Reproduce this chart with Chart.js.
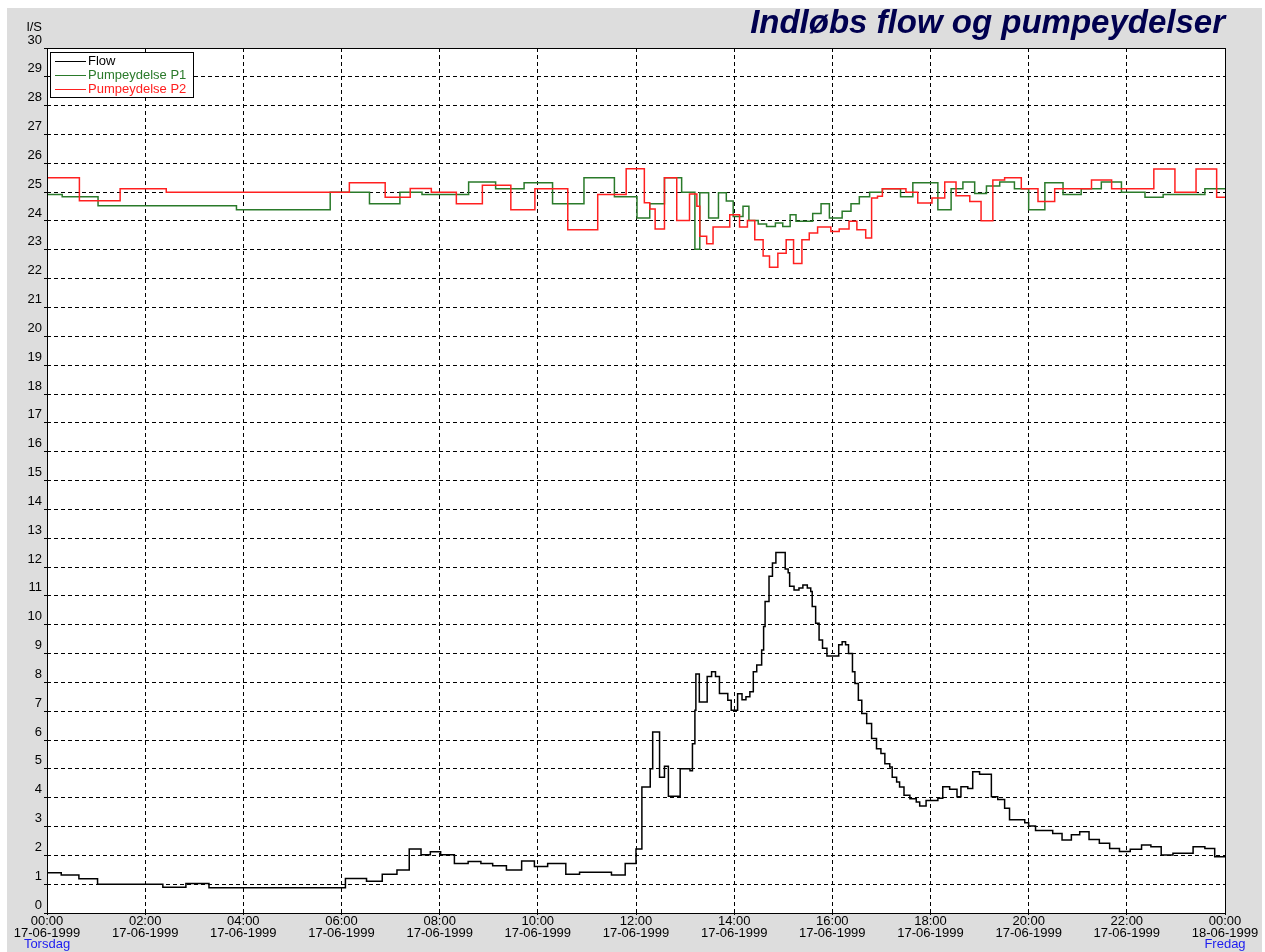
<!DOCTYPE html>
<html>
<head>
<meta charset="utf-8">
<title>Indløbs flow og pumpeydelser</title>
<script src="https://cdn.jsdelivr.net/npm/chart.js@4"></script>
<style>
  html, body { margin: 0; padding: 0; background: #fff; }
  #wrap { position: absolute; left: 7px; top: 8px; width: 1255px; height: 944px; background: #dddddd; }
</style>
</head>
<body>
<div id="wrap"><canvas id="myChart"></canvas></div>
<script>
// tick labels
const timeLabels = ["00:00", "02:00", "04:00", "06:00", "08:00", "10:00", "12:00",
  "14:00", "16:00", "18:00", "20:00", "22:00", "00:00"];
const dateLabels = ["17-06-1999", "17-06-1999", "17-06-1999", "17-06-1999", "17-06-1999",
  "17-06-1999", "17-06-1999", "17-06-1999", "17-06-1999", "17-06-1999", "17-06-1999",
  "17-06-1999", "18-06-1999"];
const dayLabels = ["Torsdag", "Fredag"];

// Flow (hours since 00:00, l/s)
const flowTimes = [0, 0.29, 0.65, 1.03, 2.36, 2.83, 3.30, 6.08, 6.51, 6.83, 7.13, 7.38, 7.62, 7.81,
  8.02, 8.3, 8.58, 8.84, 9.08, 9.36, 9.67, 9.93, 10.2, 10.57, 10.85, 11.5, 11.78, 12.0, 12.12,
  12.29, 12.34, 12.48, 12.58, 12.66, 12.9, 13.1, 13.15, 13.2, 13.22, 13.29, 13.45, 13.54, 13.62,
  13.7, 13.87, 13.94, 14.07, 14.16, 14.24, 14.32, 14.39, 14.46, 14.56, 14.6, 14.63, 14.71, 14.78,
  14.85, 15.04, 15.1, 15.13, 15.22, 15.32, 15.4, 15.49, 15.56, 15.59, 15.66, 15.73, 15.8, 15.89,
  16.13, 16.2, 16.27, 16.33, 16.41, 16.46, 16.53, 16.6, 16.7, 16.8, 16.9, 16.99, 17.07, 17.17,
  17.22, 17.31, 17.37, 17.46, 17.58, 17.71, 17.78, 17.91, 18.15, 18.25, 18.39, 18.54, 18.62,
  18.76, 18.86, 19.0, 19.24, 19.37, 19.51, 19.61, 19.92, 20.0, 20.14, 20.49, 20.68, 20.87,
  21.04, 21.23, 21.44, 21.65, 21.85, 22.07, 22.3, 22.49, 22.7, 22.94, 23.35, 23.59, 23.79, 24];
const flowValues = [1.4, 1.32, 1.19, 1.0, 0.89, 1.02, 0.88, 1.2, 1.1, 1.34, 1.49, 2.22, 2.02, 2.12,
  2.02, 1.72, 1.79, 1.72, 1.64, 1.49, 1.8, 1.61, 1.72, 1.34, 1.41, 1.32, 1.72, 2.22, 4.37,
  5.0, 6.28, 4.71, 5.09, 4.05, 5.0, 4.93, 5.87, 7.03, 8.29, 7.32, 8.2, 8.37, 8.2,
  7.61, 7.38, 7.03, 7.6, 7.4, 7.5, 7.67, 8.37, 8.6, 9.12, 9.94, 10.8, 11.68, 12.14,
  12.5, 11.93, 11.8, 11.33, 11.2, 11.27, 11.38, 11.27, 11.15, 10.63, 10.05, 9.47, 9.18, 8.91,
  9.3, 9.41, 9.3, 9.0, 8.37, 7.96, 7.38, 6.92, 6.57, 6.05, 5.7, 5.53, 5.18, 5.06,
  4.71, 4.54, 4.37, 4.08, 3.96, 3.85, 3.71, 3.9, 3.98, 4.38, 4.29, 4.03, 4.38,
  4.32, 4.9, 4.81, 4.03, 3.94, 3.63, 3.23, 3.13, 3.02, 2.86, 2.76, 2.53, 2.71,
  2.82, 2.55, 2.42, 2.24, 2.13, 2.21, 2.36, 2.3, 2.01, 2.07, 2.3, 2.24, 1.95, 1.93];

// Pumpeydelse P1
const p1Times = [0, 0.31, 1.04, 3.86, 5.77, 6.57, 7.19, 7.64, 8.59, 9.14, 9.72, 10.3, 10.94, 11.56,
  12.02, 12.28, 12.58, 12.93, 13.2, 13.3, 13.48, 13.68, 13.84, 13.98, 14.18, 14.3, 14.49, 14.66,
  14.84, 14.99, 15.14, 15.26, 15.6, 15.77, 15.94, 16.2, 16.38, 16.55, 16.76, 17.02, 17.39, 17.64,
  18.15, 18.42, 18.66, 18.9, 19.14, 19.41, 19.71, 20.0, 20.33, 20.7, 21.07, 21.48, 21.89, 22.37,
  22.74, 23.59, 24];
const p1Values = [24.92, 24.84, 24.53, 24.39, 25.0, 24.6, 25.0, 24.92, 25.35, 25.12, 25.33, 24.6, 25.5, 24.84,
  24.1, 24.6, 25.5, 25.0, 23.02, 24.98, 24.1, 24.98, 24.69, 24.16, 24.51, 24.02, 23.9, 23.81,
  23.93, 23.81, 24.22, 23.99, 24.26, 24.6, 24.1, 24.34, 24.6, 24.84, 25.0, 25.12, 24.84, 25.33,
  24.39, 25.12, 25.35, 24.95, 25.21, 25.35, 25.12, 24.39, 25.33, 24.92, 25.12, 25.35, 25.0, 24.82,
  24.92, 25.12, 25.12];

// Pumpeydelse P2
const p2Times = [0, 0.66, 1.49, 2.43, 6.16, 6.89, 7.4, 7.83, 8.34, 8.87, 9.45, 9.94, 10.61, 11.22,
  11.8, 12.17, 12.28, 12.39, 12.58, 12.83, 13.09, 13.24, 13.3, 13.44, 13.57, 13.91, 14.11, 14.27,
  14.42, 14.59, 14.72, 14.89, 15.06, 15.21, 15.38, 15.53, 15.7, 15.97, 16.14, 16.34, 16.5, 16.68,
  16.8, 16.92, 17.02, 17.5, 17.74, 18.03, 18.29, 18.52, 18.8, 19.03, 19.27, 19.51, 19.85, 20.19,
  20.53, 21.28, 21.69, 22.55, 22.98, 23.41, 23.83, 24];
const p2Values = [25.5, 24.7, 25.12, 25.0, 25.33, 24.82, 25.13, 25.0, 24.6, 25.24, 24.39, 25.12, 23.7, 24.92,
  25.81, 24.63, 24.42, 23.72, 25.5, 24.02, 24.94, 24.51, 23.47, 23.21, 23.79, 24.22, 23.79, 24.02,
  23.35, 22.79, 22.4, 22.88, 23.35, 22.53, 23.35, 23.58, 23.79, 23.64, 23.72, 23.99, 23.7, 23.41,
  24.8, 24.86, 25.12, 25.0, 24.62, 24.8, 25.35, 24.88, 24.68, 24.01, 25.42, 25.5, 25.12, 24.68,
  25.12, 25.42, 25.12, 25.8, 25.0, 25.8, 24.82, 24.82];

const seriesNames = ["Flow", "Pumpeydelse P1", "Pumpeydelse P2"];
const seriesColors = ["#000000", "#2a7a2a", "#ff2020"];

function toPoints(times, values) {
  return times.map((t, i) => ({ x: t, y: values[i] }));
}

Chart.defaults.font.family = '"Liberation Sans", Arial, sans-serif';
Chart.defaults.color = "#000";

// white plot area, frame, legend box, title and extra labels
const framePlugin = {
  id: "frame",
  beforeDraw(chart) {
    const { ctx, chartArea: a } = chart;
    ctx.save();
    ctx.fillStyle = "#ffffff";
    ctx.fillRect(a.left, a.top, a.right - a.left, a.bottom - a.top);
    ctx.restore();
  },
  afterDraw(chart) {
    const { ctx, chartArea: a, scales } = chart;
    ctx.save();
    ctx.setLineDash([]);
    ctx.strokeStyle = "#000";
    ctx.lineWidth = 1;
    ctx.strokeRect(a.left + 0.5, a.top + 0.5, a.right - a.left, a.bottom - a.top);

    // legend
    const lx = a.left + 3, ly = a.top + 4;
    ctx.fillStyle = "#fff";
    ctx.fillRect(lx, ly, 143, 45);
    ctx.strokeRect(lx + 0.5, ly + 0.5, 143, 45);
    ctx.font = '13px "Liberation Sans", Arial, sans-serif';
    ctx.textBaseline = "middle";
    ctx.textAlign = "left";
    const rows = [9, 23, 37];
    seriesNames.forEach((name, i) => {
      const y = ly + rows[i] + 0.5;
      ctx.strokeStyle = seriesColors[i];
      ctx.beginPath();
      ctx.moveTo(lx + 5, y);
      ctx.lineTo(lx + 36, y);
      ctx.stroke();
      ctx.fillStyle = seriesColors[i];
      ctx.fillText(name, lx + 38, y);
    });

    // title
    ctx.fillStyle = "#00004f";
    ctx.font = 'bold italic 33px "Liberation Sans", Arial, sans-serif';
    ctx.textAlign = "right";
    ctx.textBaseline = "alphabetic";
    ctx.fillText("Indløbs flow og pumpeydelser", a.right, 25);

    // unit
    ctx.fillStyle = "#000";
    ctx.font = '13px "Liberation Sans", Arial, sans-serif';
    ctx.textBaseline = "middle";
    ctx.fillText("l/S", a.left - 5, 19);

    // weekday under first and last tick
    const x = scales.x;
    ctx.fillStyle = "#1c1cf0";
    ctx.textAlign = "center";
    ctx.fillText(dayLabels[0], x.getPixelForValue(0), a.bottom + 31);
    ctx.fillText(dayLabels[1], x.getPixelForValue(24), a.bottom + 31);
    ctx.restore();
  }
};

const ctx = document.getElementById("myChart");

new Chart(ctx, {
  type: "line",
  data: {
    datasets: [
      {
        label: seriesNames[0],
        data: toPoints(flowTimes, flowValues),
        borderColor: seriesColors[0],
      },
      {
        label: seriesNames[2],
        data: toPoints(p2Times, p2Values),
        borderColor: seriesColors[2],
      },
      {
        label: seriesNames[1],
        data: toPoints(p1Times, p1Values),
        borderColor: seriesColors[1],
      },
    ],
  },
  options: {
    responsive: true,
    maintainAspectRatio: false,
    animation: false,
    layout: { padding: { top: 40, right: 37, left: 0, bottom: 0 } },
    elements: {
      line: { borderWidth: 1.5, stepped: true, tension: 0 },
      point: { radius: 0 },
    },
    plugins: {
      legend: { display: false },
      title: { display: false },
      tooltip: { enabled: false },
    },
    scales: {
      x: {
        type: "linear",
        min: 0,
        max: 24,
        afterFit(scale) { scale.height = 39; },
        grid: { color: "#000", lineWidth: 1, tickLength: 2, tickColor: "#000", tickBorderDash: [] },
        border: { display: false, dash: [4, 3] },
        ticks: {
          stepSize: 2,
          autoSkip: false,
          maxRotation: 0,
          padding: 0,
          color: "#000",
          font: { size: 13, lineHeight: 0.923 },
          callback: (value) => [timeLabels[value / 2], dateLabels[value / 2]],
        },
      },
      y: {
        min: 0,
        max: 30,
        afterFit(scale) { scale.width = 40; },
        grid: { color: "#000", lineWidth: 1, tickLength: 3, tickColor: "#000", tickBorderDash: [] },
        border: { display: false, dash: [4, 3] },
        ticks: {
          stepSize: 1,
          padding: 2,
          labelOffset: -8,
          color: "#000",
          font: { size: 13 },
        },
      },
    },
  },
  plugins: [framePlugin],
});
</script>
</body>
</html>
